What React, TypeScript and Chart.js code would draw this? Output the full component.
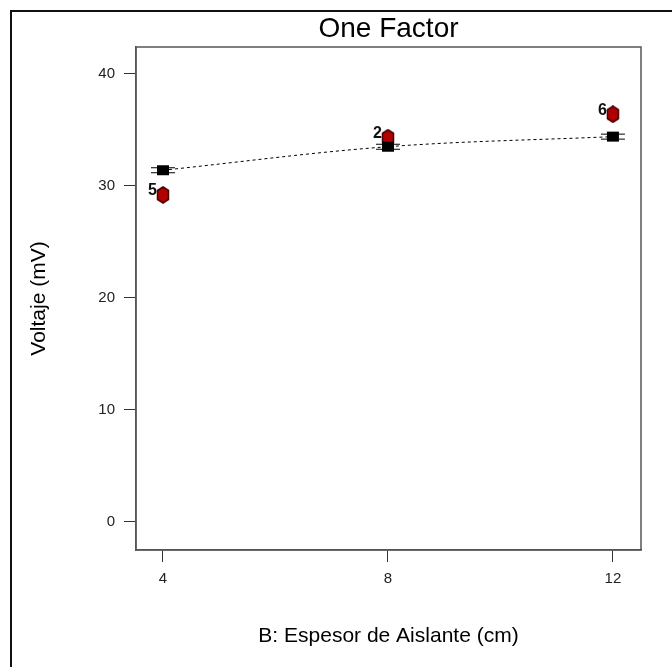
import React, { useEffect, useRef } from "react";
import { Chart, registerables } from "chart.js";

Chart.register(...registerables);

const chartTitle = "One Factor";
const xValues = [4, 8, 12];
const predicted = [31.4, 33.5, 34.4];
const actual = [29.2, 34.3, 36.4];
const pointLabels = ["5", "2", "6"];
const xTicks = [4, 8, 12];
const yTicks = [0, 10, 20, 30, 40];

function makeSquare(): HTMLCanvasElement {
  const c = document.createElement("canvas");
  c.width = 26;
  c.height = 14;
  const g = c.getContext("2d")!;
  g.fillStyle = "#000";
  g.fillRect(7, 2, 12, 10);
  g.strokeStyle = "#000";
  g.lineWidth = 1;
  g.beginPath();
  g.moveTo(1, 4.5);
  g.lineTo(25, 4.5);
  g.moveTo(1, 9.5);
  g.lineTo(25, 9.5);
  g.stroke();
  return c;
}

function makeHex(): HTMLCanvasElement {
  const c = document.createElement("canvas");
  c.width = 14;
  c.height = 18;
  const g = c.getContext("2d")!;
  g.beginPath();
  g.moveTo(7, 1);
  g.lineTo(12.5, 4.5);
  g.lineTo(12.5, 13.5);
  g.lineTo(7, 17);
  g.lineTo(1.5, 13.5);
  g.lineTo(1.5, 4.5);
  g.closePath();
  g.fillStyle = "#b00000";
  g.fill();
  g.strokeStyle = "#4a0000";
  g.lineWidth = 1.5;
  g.stroke();
  return c;
}

const FONT = "'Liberation Sans', Arial, sans-serif";

const framePlugin = {
  id: "frame",
  beforeDraw(chart: any) {
    const ctx = chart.ctx;
    const a = chart.chartArea;
    ctx.save();
    ctx.fillStyle = "#fff";
    ctx.fillRect(0, 0, chart.width, chart.height);
    ctx.strokeStyle = "#111";
    ctx.lineWidth = 2;
    ctx.strokeRect(11, 11, 720, 720);
    ctx.fillStyle = "#000";
    ctx.font = `28px ${FONT}`;
    ctx.textAlign = "center";
    ctx.textBaseline = "middle";
    ctx.fillText(chartTitle, (a.left + a.right) / 2, 29);
    ctx.restore();
  },
  afterDatasetsDraw(chart: any) {
    const ctx = chart.ctx;
    const a = chart.chartArea;
    ctx.save();
    ctx.strokeStyle = "#555";
    ctx.lineWidth = 1.5;
    ctx.strokeRect(a.left, a.top, a.right - a.left, a.bottom - a.top);
    const meta = chart.getDatasetMeta(1);
    ctx.fillStyle = "#111";
    ctx.font = `bold 16px ${FONT}`;
    ctx.textAlign = "right";
    ctx.textBaseline = "middle";
    meta.data.forEach((el: any, i: number) => {
      ctx.fillText(pointLabels[i], el.x - 6, el.y - 4);
    });
    ctx.restore();
  },
};

export default function App() {
  const ref = useRef<HTMLCanvasElement>(null);
  useEffect(() => {
    const sq = makeSquare();
    const hex = makeHex();
    const chart = new Chart(ref.current!, {
      type: "scatter",
      data: {
        datasets: [
          {
            label: "Predicted",
            data: xValues.map((x, i) => ({ x, y: predicted[i] })),
            showLine: true,
            borderColor: "#000",
            borderWidth: 1,
            borderDash: [3, 3],
            tension: 0.35,
            pointStyle: sq as any,
            pointRadius: 7,
          },
          {
            label: "Actual",
            data: xValues.map((x, i) => ({ x, y: actual[i] })),
            showLine: false,
            pointStyle: hex as any,
            pointRadius: 7,
          },
        ],
      },
      options: {
        responsive: false,
        animation: false,
        layout: { padding: { left: 0, right: 31, top: 47, bottom: 0 } },
        plugins: {
          legend: { display: false },
          tooltip: { enabled: false },
          title: { display: false },
        },
        scales: {
          x: {
            type: "linear",
            min: 3.52,
            max: 12.5,
            afterBuildTicks: (s: any) => {
              s.ticks = xTicks.map((v) => ({ value: v }));
            },
            afterFit: (s: any) => {
              s.height = 117;
            },
            grid: { drawOnChartArea: false, drawTicks: true, tickLength: 12, color: "#333" },
            border: { display: true, color: "#555", width: 1.5 },
            ticks: { color: "#222", font: { family: FONT, size: 15 }, padding: 8 },
            title: {
              display: true,
              text: "B: Espesor de Aislante (cm)",
              color: "#000",
              font: { family: FONT, size: 21, lineHeight: 1.2 },
              padding: { top: 0, bottom: 18 },
            },
          },
          y: {
            type: "linear",
            min: -2.5,
            max: 42.4,
            afterBuildTicks: (s: any) => {
              s.ticks = yTicks.map((v) => ({ value: v }));
            },
            afterFit: (s: any) => {
              s.width = 136;
            },
            grid: { drawOnChartArea: false, drawTicks: true, tickLength: 12, color: "#333" },
            border: { display: true, color: "#555", width: 1.5 },
            ticks: { color: "#222", font: { family: FONT, size: 15 }, padding: 9 },
            title: {
              display: true,
              text: "Voltaje (mV)",
              color: "#000",
              font: { family: FONT, size: 21, lineHeight: 1.2 },
              padding: { top: 27, bottom: 0 },
            },
          },
        },
      },
      plugins: [framePlugin],
    });
    return () => chart.destroy();
  }, []);
  return (
    <div style={{ position: "absolute", left: 0, top: 0, width: 672, height: 667, background: "#fff" }}>
      <canvas ref={ref} width={672} height={667} style={{ width: 672, height: 667, display: "block" }} />
    </div>
  );
}
